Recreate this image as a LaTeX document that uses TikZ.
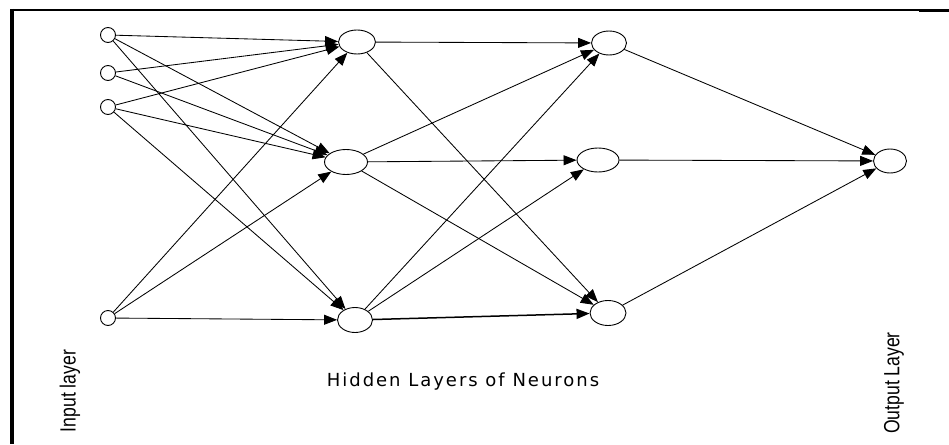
\documentclass[tikz,border=0pt]{standalone}
\usepackage{fontspec}
\setmainfont{Liberation Sans}
\newfontfamily\dvs[LetterSpace=11]{DejaVu Sans}
\usetikzlibrary{arrows.meta,shapes.geometric}
\begin{document}
\begin{tikzpicture}[x=1pt,y=-1pt,
  neuron/.style={ellipse,draw,line width=0.9pt,inner sep=0pt,fill=white},
  inp/.style={circle,draw,line width=0.9pt,inner sep=0pt,minimum size=15pt,fill=white},
  conn/.style={draw,line width=0.85pt,-{Triangle[length=13pt,width=10pt]}},
  lbl/.style={inner sep=0pt}]
\useasboundingbox (0,0) rectangle (949,444);
\fill[white] (0,0) rectangle (949,444);
% frame
\draw[line width=4pt] (12,9) -- (12,444);
\draw[line width=1.6pt] (10,10) -- (949,10);
\draw[line width=2.6pt] (919,11) -- (949,11);
% input layer
\node[inp] (i1) at (108,35) {};
\node[inp] (i2) at (108,73) {};
\node[inp] (i3) at (108,107) {};
\node[inp] (i4) at (108,318) {};
% hidden layer 1
\node[neuron,minimum width=37pt,minimum height=24pt] (a1) at (357,42) {};
\node[neuron,minimum width=43pt,minimum height=25pt] (a2) at (346,162) {};
\node[neuron,minimum width=35pt,minimum height=25pt] (a3) at (355,320) {};
% hidden layer 2
\node[neuron,minimum width=35pt,minimum height=24pt] (b1) at (609,43) {};
\node[neuron,minimum width=42pt,minimum height=24pt] (b2) at (598,160) {};
\node[neuron,minimum width=36pt,minimum height=25pt] (b3) at (608,313) {};
% output
\node[neuron,minimum width=33pt,minimum height=24pt] (o) at (890,161) {};
% connections input -> hidden 1
\foreach \s/\t in {i1/a1,i1/a2,i1/a3,i2/a1,i2/a2,i3/a1,i3/a2,i3/a3,i4/a1,i4/a2,i4/a3}
  \path[conn] (\s) -- (\t);
% hidden 1 -> hidden 2
\foreach \s/\t in {a1/b1,a1/b3,a2/b1,a2/b2,a2/b3,a3/b1,a3/b2}
  \path[conn] (\s) -- (\t);
\path[conn,line width=1.5pt] (a3) -- (b3);
% hidden 2 -> output
\foreach \s in {b1,b2,b3}
  \path[conn] (\s) -- (o);
% labels
\node[lbl,rotate=90] (lin) at (70,391) {\fontsize{22}{26}\selectfont\scalebox{0.8}[1]{Input layer}};
\node[lbl,rotate=90] (lout) at (894,383) {\fontsize{22}{26}\selectfont\scalebox{0.8}[1]{Output Layer}};
\node[lbl] (lhid) at (463,382) {\dvs\fontsize{18}{21}\selectfont Hidden Layers of Neurons};
\end{tikzpicture}
\end{document}
